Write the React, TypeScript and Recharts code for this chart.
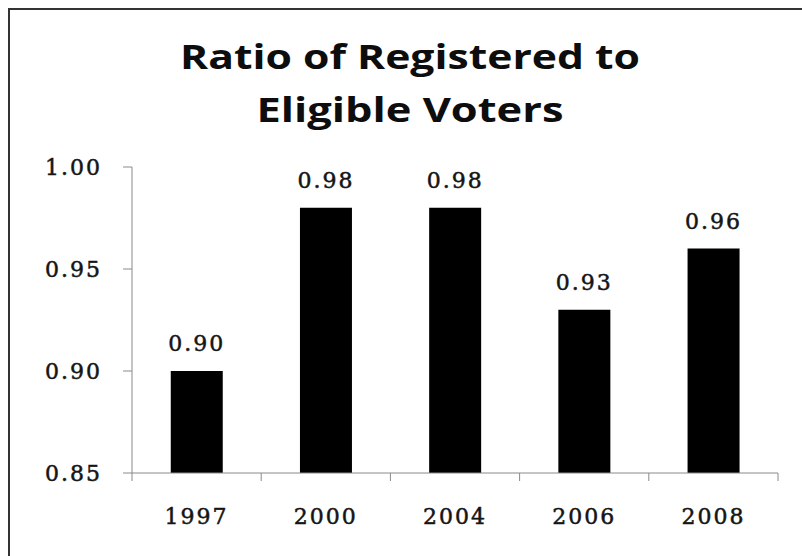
import { BarChart, Bar, XAxis, YAxis, LabelList } from "recharts";

// ---------------------------------------------------------------------------
// Data
// ---------------------------------------------------------------------------

const years = ["1997", "2000", "2004", "2006", "2008"];
const ratios = [0.9, 0.98, 0.98, 0.93, 0.96];
const yTicks = [0.85, 0.9, 0.95, 1.0];
const titleLines = ["Ratio of Registered to", "Eligible Voters"];

const chartData = years.map((year, i) => ({ year, ratio: ratios[i] }));

// ---------------------------------------------------------------------------
// Style
// ---------------------------------------------------------------------------

const W = 802;
const H = 556;
const labelFont = "'DejaVu Serif', serif";
const axisGray = "#8a8a8a";
// regular face with a thin outline reads as the semibold of the source
const labelStyle = {
  fontFamily: labelFont,
  fontSize: 22,
  fill: "#151515",
  stroke: "#151515",
  strokeWidth: 0.5,
  letterSpacing: 2,
};
// the source picture is stretched sideways, so the title lines are widened to match
const titleWidths = [460, 307];

function fmt(n: number): string {
  return n.toFixed(2);
}

// category tick: year label plus tick marks on the band edges
function YearTick(props: any) {
  const { x, y, payload, index } = props;
  const half = payload?.offset ?? 0;
  return (
    <g>
      <line x1={x - half} y1={y - 8} x2={x - half} y2={y} stroke={axisGray} strokeWidth={1} />
      {index === years.length - 1 && (
        <line x1={x + half} y1={y - 8} x2={x + half} y2={y} stroke={axisGray} strokeWidth={1} />
      )}
      <text x={x} y={y + 43} textAnchor="middle" style={labelStyle}>
        {payload.value}
      </text>
    </g>
  );
}

export default function App() {
  return (
    <div
      style={{
        position: "absolute",
        left: 0,
        top: 0,
        width: W,
        height: H,
        background: "#fff",
        overflow: "hidden",
      }}
    >
      {/* frame, only top and left edges are visible */}
      <div
        style={{
          position: "absolute",
          left: 8,
          top: 8,
          width: W + 20,
          height: H + 20,
          borderTop: "2px solid #333",
          borderLeft: "2px solid #333",
        }}
      />

      {/* Title */}
      <svg width={W} height={140} style={{ position: "absolute", left: 0, top: 0 }}>
        {titleLines.map((line, i) => (
          <text
            key={line}
            x={410}
            y={69 + i * 53}
            textAnchor="middle"
            textLength={titleWidths[i]}
            lengthAdjust="spacingAndGlyphs"
            fontFamily="'Open Sans', sans-serif"
            fontWeight={700}
            fontSize={34}
            fill="#0d0d0d"
            style={{ fontVariantLigatures: "none" }}
          >
            {line}
          </text>
        ))}
      </svg>

      <div style={{ position: "absolute", left: 0, top: 0 }}>
        <BarChart
          width={W}
          height={H}
          data={chartData}
          margin={{ top: 167, right: 24, bottom: 0, left: 0 }}
          barCategoryGap="30%"
        >
          <XAxis
            dataKey="year"
            axisLine={{ stroke: axisGray }}
            tickLine={false}
            tickSize={8}
            tickMargin={0}
            height={83}
            interval={0}
            tick={<YearTick />}
          />
          <YAxis
            width={132}
            domain={[0.85, 1.0]}
            ticks={yTicks}
            tickFormatter={fmt}
            axisLine={{ stroke: axisGray }}
            tickLine={{ stroke: axisGray }}
            tickSize={9}
            tickMargin={21}
            tick={labelStyle}
          />
          <Bar dataKey="ratio" fill="#000" isAnimationActive={false}>
            <LabelList
              dataKey="ratio"
              position="top"
              offset={20}
              formatter={(v: any) => fmt(Number(v))}
              style={labelStyle}
            />
          </Bar>
        </BarChart>
      </div>
    </div>
  );
}
